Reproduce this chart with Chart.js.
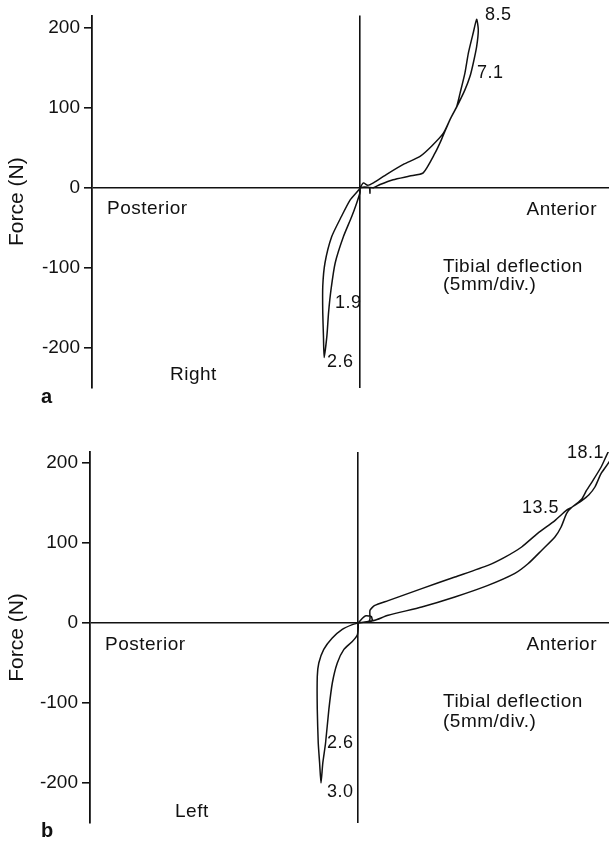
<!DOCTYPE html>
<html>
<head>
<meta charset="utf-8">
<script src="https://cdn.jsdelivr.net/npm/chart.js@4.4.1/dist/chart.umd.min.js"></script>
<style>
  body { margin: 0; background: #fff; }
  canvas { position: absolute; left: 0; }
</style>
</head>
<body>
<canvas id="chartA" width="609" height="420" style="top:0"></canvas>
<canvas id="chartB" width="609" height="423" style="top:420px"></canvas>
<script>
const forceTicks = [-200, -100, 0, 100, 200];

// panel a (right knee): tibial deflection in mm, force in N
const rightAntX = [0, 0.25, 0.55, 0.97, 1.93, 3.14, 4.35, 5.2, 6.04, 6.52, 7.0, 7.25, 7.6, 7.85, 8.2, 8.45,
  8.57, 8.45, 8.2, 7.97, 7.6, 7.1, 6.52, 5.9, 5.43, 4.58, 3.6, 2.4, 1.45, 0.97, 0.72, 0.72, 0.7, 0.3, 0];
const rightAntY = [0, 6, 3, 6, 16.6, 29, 39, 52, 68, 85, 101, 118, 143, 168, 193, 210,
  197, 176, 155, 139, 122, 104, 85, 60, 43, 18.5, 14.5, 10, 4, 0, 0, -7, 0, 1, 0];
const rightPostX = [0, -0.1, -0.7, -1.35, -2.05, -2.54, -2.7, -2.7, -2.65, -2.6,
  -2.4, -2.28, -2.1, -1.8, -1.2, -0.6, -0.24, 0, 0];
const rightPostY = [0, -3, -15, -36, -61, -94, -123, -156, -185, -212,
  -185, -156, -127, -94, -61, -36, -19, -6, 0];

// panel b (left knee)
const leftAntX = [0, 0.3, 0.55, 0.95, 1.0, 0.75, 0.85, 0.85, 1.2, 2.17, 4.6, 7.0, 9.4, 10.6, 11.84, 13.0, 14.25, 15.1, 15.5, 16.2, 16.55, 17.0, 17.6, 18.25,
  18.3, 17.6, 17.15, 16.7, 16.2, 15.5, 15.1, 14.7, 14.25, 13.3, 12.3, 11.35, 9.4, 7.0, 4.6, 2.17, 1.2, 0.72, 0];
const leftAntY = [0, 6, 9, 8, 3, 1, 5, 16, 22, 28, 43, 57.5, 72, 82, 95, 112, 128, 141, 145, 155, 166, 178, 195, 218,
  205, 187, 170, 160, 153, 145, 137, 120, 107.5, 91, 74, 62, 47, 32.5, 20, 9.6, 3.4, 2, 0];
const leftPostX = [0, -0.43, -1.16, -1.9, -2.5, -2.86, -2.97, -2.97, -2.9, -2.8, -2.7,
  -2.57, -2.37, -2.13, -1.88, -1.52, -1.04, -0.43, -0.07, 0, 0];
const leftPostY = [0, -2, -8, -19, -33, -50, -67, -108, -150, -175, -200,
  -175, -150, -108, -75, -50, -33, -23, -15, -5, 0];

const ink = '#111';
const family = '"Liberation Sans", Arial, Helvetica, sans-serif';
Chart.defaults.font.family = family;
Chart.defaults.color = ink;

function toPoints(xs, ys) {
  return xs.map((x, i) => ({ x: x, y: ys[i] }));
}

const notesPlugin = {
  id: 'notes',
  afterDraw(chart, args, opts) {
    const ctx = chart.ctx;
    ctx.save();
    ctx.fillStyle = ink;
    ctx.textBaseline = 'alphabetic';
    ctx.letterSpacing = '0.5px';
    opts.items.forEach(n => {
      ctx.font = (n.bold ? 'bold ' : '') + n.size + 'px ' + family;
      ctx.textAlign = n.align || 'left';
      ctx.fillText(n.text, n.x, n.y);
    });
    ctx.restore();
  }
};

function zeroOnly(c) {
  return c.tick && c.tick.value === 0 ? ink : 'rgba(0,0,0,0)';
}

function makePanel(id, antX, antY, postX, postY, p) {
  const line = { showLine: true, borderColor: ink, borderWidth: 1.5, pointRadius: 0, tension: 0.2, fill: false };
  new Chart(document.getElementById(id), {
    type: 'scatter',
    data: {
      datasets: [
        Object.assign({ data: toPoints(antX, antY) }, line),
        Object.assign({ data: toPoints(postX, postY) }, line)
      ]
    },
    options: {
      responsive: false,
      animation: false,
      devicePixelRatio: 1,
      layout: { padding: { top: p.padTop, bottom: p.padBottom, left: 0, right: 0 } },
      plugins: {
        legend: { display: false },
        tooltip: { enabled: false },
        notes: { items: p.notes }
      },
      scales: {
        x: {
          type: 'linear',
          min: p.xMin,
          max: p.xMax,
          afterBuildTicks: s => { s.ticks = [{ value: 0 }]; },
          afterFit: s => { s.height = 0; },
          ticks: { display: false },
          grid: { drawTicks: false, color: zeroOnly, lineWidth: 1.6 },
          border: { display: false }
        },
        y: {
          min: p.yMin,
          max: p.yMax,
          afterBuildTicks: s => { s.ticks = forceTicks.map(v => ({ value: v })); },
          afterFit: s => { s.width = p.axisWidth; },
          ticks: { font: { size: 19 }, color: ink, padding: 4 },
          grid: { tickLength: 8, tickColor: ink, color: zeroOnly, lineWidth: 1.6 },
          border: { display: true, color: ink, width: 1.8 },
          title: { display: true, text: 'Force (N)', font: { size: 21 }, color: ink, padding: { top: 5, bottom: 0 } }
        }
      }
    },
    plugins: [notesPlugin]
  });
}

makePanel('chartA', rightAntX, rightAntY, rightPostX, rightPostY, {
  axisWidth: 92, padTop: 15, padBottom: 32,
  xMin: -19.42, xMax: 18.04, yMin: -250, yMax: 215,
  notes: [
    { text: 'Posterior', x: 107, y: 214, size: 19 },
    { text: 'Anterior', x: 597, y: 215, size: 19, align: 'right' },
    { text: 'Tibial deflection', x: 443, y: 272, size: 19 },
    { text: '(5mm/div.)', x: 443, y: 290, size: 19 },
    { text: 'Right', x: 170, y: 380, size: 19 },
    { text: 'a', x: 41, y: 403, size: 20, bold: true },
    { text: '8.5', x: 485, y: 20, size: 18 },
    { text: '7.1', x: 477, y: 78, size: 18 },
    { text: '1.9', x: 335, y: 308, size: 18 },
    { text: '2.6', x: 327, y: 367, size: 18 }
  ]
});

makePanel('chartB', leftAntX, leftAntY, leftPostX, leftPostY, {
  axisWidth: 90, padTop: 32, padBottom: 20,
  xMin: -19.44, xMax: 18.17, yMin: -250, yMax: 213.75,
  notes: [
    { text: 'Posterior', x: 105, y: 230, size: 19 },
    { text: 'Anterior', x: 597, y: 230, size: 19, align: 'right' },
    { text: 'Tibial deflection', x: 443, y: 287, size: 19 },
    { text: '(5mm/div.)', x: 443, y: 307, size: 19 },
    { text: 'Left', x: 175, y: 397, size: 19 },
    { text: 'b', x: 41, y: 417, size: 20, bold: true },
    { text: '18.1', x: 567, y: 38, size: 18 },
    { text: '13.5', x: 522, y: 93, size: 18 },
    { text: '2.6', x: 327, y: 328, size: 18 },
    { text: '3.0', x: 327, y: 377, size: 18 }
  ]
});
</script>
</body>
</html>
